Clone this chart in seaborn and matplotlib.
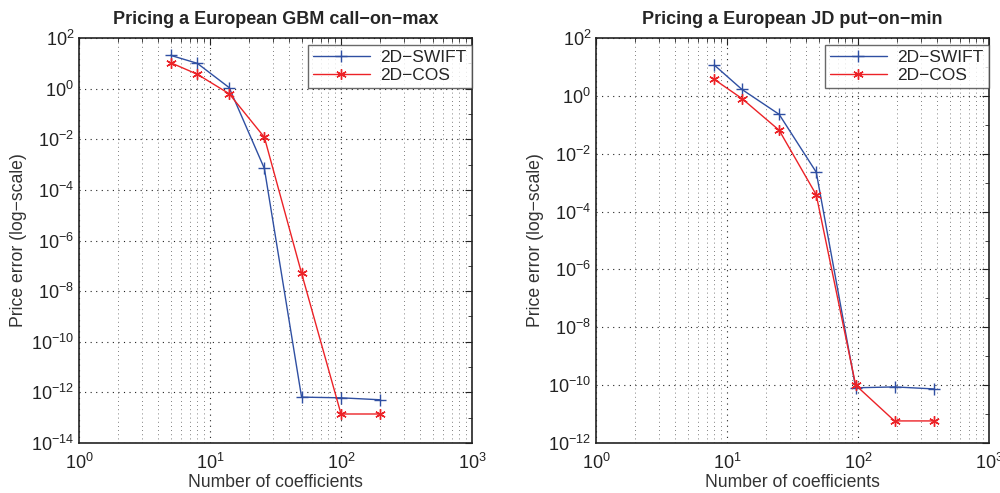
import numpy as np
import pandas as pd
import matplotlib
matplotlib.use('Agg')
import matplotlib.pyplot as plt
import seaborn as sns

# left panel: GBM call-on-max
gbm_n = [5, 8, 14, 26, 50, 100, 200]
gbm_swift = [20.7, 10.0, 1.1, 7e-4, 6.5e-13, 6.1e-13, 5.1e-13]
gbm_cos = [10.6, 3.7, 0.63, 0.012, 5.1e-8, 1.4e-13, 1.4e-13]

# right panel: JD put-on-min
jd_n = [8, 13, 25, 48, 96, 190, 380]
jd_swift = [11.6, 1.67, 0.23, 2.3e-3, 8.1e-11, 8.7e-11, 7.4e-11]
jd_cos = [3.7, 0.81, 0.065, 3.8e-4, 1.0e-10, 5.8e-12, 5.8e-12]

titles = ['Pricing a European GBM call\u2212on\u2212max', 'Pricing a European JD put\u2212on\u2212min']
ylims = [(1e-14, 1e2), (1e-12, 1e2)]

sns.set_style('white')
plt.rcParams['font.family'] = ['Liberation Sans', 'DejaVu Sans']
plt.rcParams['mathtext.fontset'] = 'custom'
plt.rcParams['mathtext.rm'] = 'Liberation Sans'
plt.rcParams['mathtext.it'] = 'Liberation Sans'
plt.rcParams['mathtext.default'] = 'regular'

blue = '#2f4fa2'
red = '#ec2227'
asterisk = (6, 2, 0)

fig = plt.figure(figsize=(10, 4.93), dpi=100)
ax1 = fig.add_axes([0.079, 0.1014, 0.393, 0.8215])
ax2 = fig.add_axes([0.596, 0.1014, 0.393, 0.8215])

panels = [(ax1, gbm_n, gbm_swift, gbm_cos), (ax2, jd_n, jd_swift, jd_cos)]

for i, (ax, n, swift, cos) in enumerate(panels):
    df = pd.DataFrame({'n': n, 'swift': swift, 'cos': cos})
    sns.lineplot(data=df, x='n', y='swift', ax=ax, color=blue, marker='+',
                 markersize=8, markeredgewidth=1.0, markeredgecolor=blue,
                 linewidth=1.0, label='2D\u2212SWIFT')
    sns.lineplot(data=df, x='n', y='cos', ax=ax, color=red, marker=asterisk,
                 markersize=7.5, markeredgewidth=1.0, markeredgecolor=red,
                 linewidth=1.0, label='2D\u2212COS')
    ax.set_xscale('log')
    ax.set_yscale('log')
    ax.set_xlim(1, 1e3)
    ax.set_ylim(*ylims[i])
    lo = np.log10(ylims[i][0])
    ax.yaxis.set_major_locator(matplotlib.ticker.FixedLocator(10.0 ** np.arange(lo, 3, 2)))
    ax.yaxis.set_minor_locator(matplotlib.ticker.FixedLocator(10.0 ** np.arange(lo + 1, 3, 2)))
    ax.yaxis.set_minor_formatter(matplotlib.ticker.NullFormatter())
    ax.grid(True, which='major', linestyle=(0, (1, 4)), color='#222222', linewidth=0.8)
    ax.grid(True, which='minor', axis='x', linestyle=(0, (1, 4)), color='#555555', linewidth=0.6)
    ax.tick_params(which='both', direction='in', top=True, right=True, labelsize=13,
                   labelcolor='#222222', color='#222222')
    ax.tick_params(which='major', length=5)
    ax.tick_params(which='minor', length=3)
    ax.tick_params(axis='x', pad=7)
    for s in ax.spines.values():
        s.set_color('#222222')
        s.set_linewidth(1.2)
    ax.set_title(titles[i], fontsize=13, fontweight='bold', pad=10)
    ax.set_xlabel('Number of coefficients', fontsize=12.7, color='#333333', labelpad=1)
    ax.set_ylabel('Price error (log\u2212scale)', fontsize=12.7, color='#333333', labelpad=3)
    leg = ax.legend(loc='upper right', fontsize=12.5, frameon=True, fancybox=False,
                    edgecolor='#444444', handlelength=3.3, borderaxespad=0,
                    bbox_to_anchor=(1.0, 1 - 7 / 405), labelspacing=0.15,
                    borderpad=0.3, handletextpad=0.6)
    leg.get_frame().set_linewidth(1.0)

plt.savefig('out.png', dpi=100)
